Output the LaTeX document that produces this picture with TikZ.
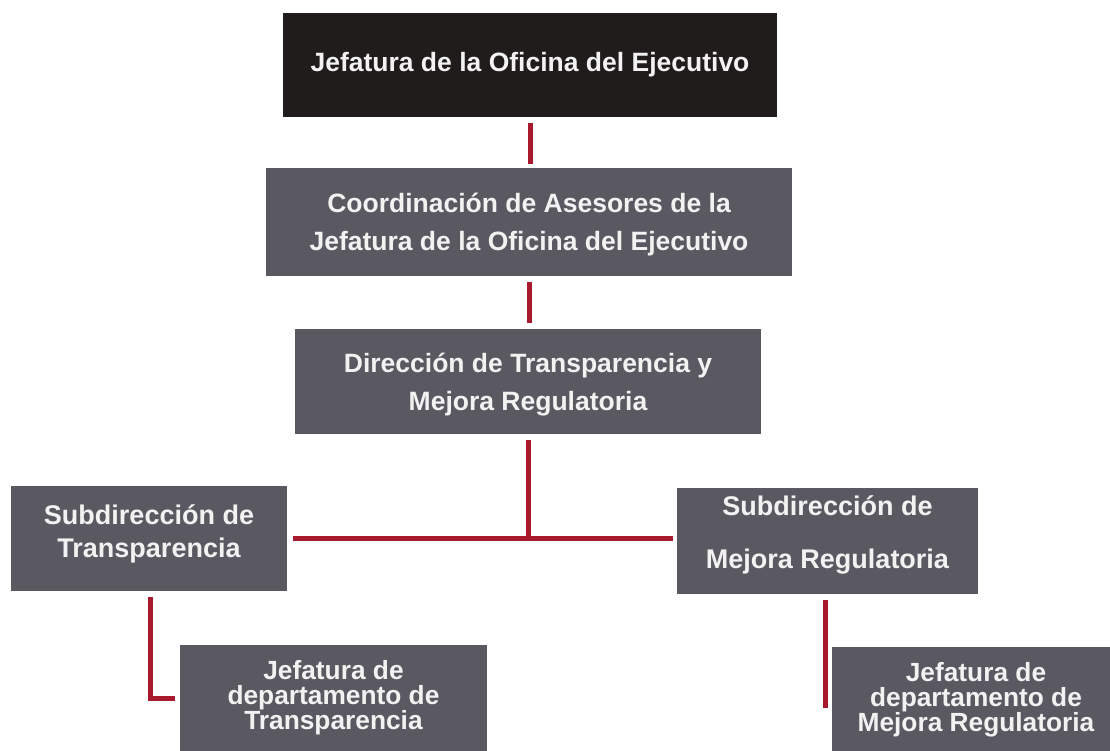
\documentclass[tikz,border=0pt]{standalone}
\usepackage{fontspec}
\setmainfont{Liberation Sans}
\definecolor{boxblack}{HTML}{1F1C1B}
\definecolor{boxgray}{HTML}{5A5961}
\definecolor{linered}{HTML}{A8192D}
\definecolor{txtwhite}{HTML}{F2F2F2}
\begin{document}
\begin{tikzpicture}[x=1pt,y=-1pt,
  orgbox/.style={rectangle, fill=boxgray, text=txtwhite, align=center, inner sep=0pt, font=\bfseries\fontsize{26.5}{38}\selectfont},
  conn/.style={draw=linered, line width=5pt}]
\useasboundingbox[fill=white] (0,0) rectangle (1110,750);
\node[orgbox, fill=boxblack, minimum width=494, minimum height=104] (top) at (530,65) {Jefatura de la Oficina del Ejecutivo};
\node[orgbox, minimum width=526, minimum height=108, text depth=0pt] (coord) at (529,222) {Coordinación de Asesores de la\\Jefatura de la Oficina del Ejecutivo};
\node[orgbox, minimum width=466, minimum height=105, text depth=0pt] (dir) at (528,381.5) {Dirección de Transparencia y\\Mejora Regulatoria};
\node[orgbox, minimum width=276, minimum height=105, text depth=15pt, font=\bfseries\fontsize{27}{33}\selectfont] (subt) at (149,538.5) {Subdirección de\\Transparencia};
\node[orgbox, minimum width=301, minimum height=106, text depth=17pt, font=\bfseries\fontsize{27}{53}\selectfont] (subm) at (827.5,541) {Subdirección de\\Mejora Regulatoria};
\node[orgbox, minimum width=307, minimum height=106, font=\bfseries\fontsize{26.3}{24.5}\selectfont] (jt) at (333.5,698) {Jefatura de\\departamento de\\Transparencia};
\node[orgbox, minimum width=288, minimum height=106, font=\bfseries\fontsize{26.3}{24.5}\selectfont] (jm) at (976,700) {Jefatura de\\departamento de\\Mejora Regulatoria};
\coordinate (j) at (dir.south |- subt.east);
\coordinate (mend) at (825,708);
\draw[conn, shorten <=6pt, shorten >=4pt] (top.south) -- (top.south |- coord.north);
\draw[conn, shorten <=6pt, shorten >=6pt] (coord.south) -- (coord.south |- dir.north);
\draw[conn, shorten <=6pt] (dir.south) -- (j);
\draw[conn, shorten <=6pt, shorten >=4pt] (subt.east) -- (subt.east -| subm.west);
\draw[conn, shorten <=6pt, shorten >=5pt] ([xshift=1pt]subt.south) |- (jt.west);
\draw[conn, shorten <=6pt] ([xshift=-2.5pt]subm.south) -- (mend);
\end{tikzpicture}
\end{document}
